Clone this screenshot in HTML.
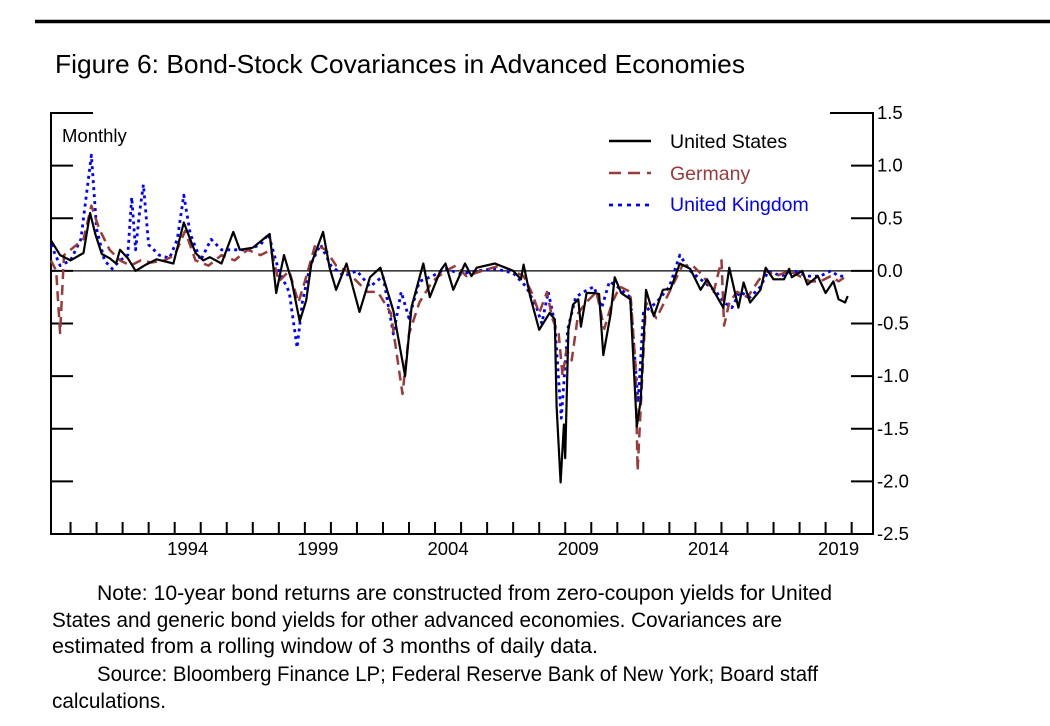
<!DOCTYPE html>
<html><head><meta charset="utf-8"><style>
html,body{margin:0;padding:0;background:#fff;}
svg{display:block;font-family:"Liberation Sans",sans-serif;}
</style></head><body>
<svg id="chart" width="1050" height="726" viewBox="0 0 1050 726">
<line x1="35" y1="21.5" x2="1050" y2="21.5" stroke="#000" stroke-width="3.5"/>
<text x="55" y="73" font-size="26" textLength="690" lengthAdjust="spacingAndGlyphs">Figure 6: Bond-Stock Covariances in Advanced Economies</text>
<g id="axes"></g>
<g id="series"></g>
<g>
<line x1="609" y1="141" x2="651" y2="141" stroke="#000" stroke-width="2.5"/>
<text x="670" y="148" font-size="19.5">United States</text>
<line x1="609" y1="173" x2="651" y2="173" stroke="#9b3a3a" stroke-width="2.5" stroke-dasharray="12,7"/>
<text x="670" y="180" font-size="19.5" fill="#9b3a3a">Germany</text>
<line x1="609" y1="205" x2="651" y2="205" stroke="#0000ff" stroke-width="2.8" stroke-dasharray="4,5"/>
<text x="670" y="211" font-size="19.5" fill="#0000ff">United Kingdom</text>
</g>
<text x="62" y="142" font-size="18.5">Monthly</text>
<g font-size="21" font-family="'Liberation Sans',sans-serif">
<text x="97" y="600" textLength="735" lengthAdjust="spacingAndGlyphs">Note: 10-year bond returns are constructed from zero-coupon yields for United</text>
<text x="52" y="627" textLength="730" lengthAdjust="spacingAndGlyphs">States and generic bond yields for other advanced economies. Covariances are</text>
<text x="52" y="653" textLength="546" lengthAdjust="spacingAndGlyphs">estimated from a rolling window of 3 months of daily data.</text>
<text x="97" y="681" textLength="721" lengthAdjust="spacingAndGlyphs">Source: Bloomberg Finance LP; Federal Reserve Bank of New York; Board staff</text>
<text x="52" y="708" textLength="114" lengthAdjust="spacingAndGlyphs">calculations.</text>
</g>
</svg>
<script>
const yTicks = [1.5, 1.0, 0.5, 0.0, -0.5, -1.0, -1.5, -2.0, -2.5];
const yTickLabels = ["1.5","1.0","0.5","0.0","-0.5","-1.0","-1.5","-2.0","-2.5"];
const xYearTicks = [1990,1991,1992,1993,1994,1995,1996,1997,1998,1999,2000,2001,2002,2003,2004,2005,2006,2007,2008,2009,2010,2011,2012,2013,2014,2015,2016,2017,2018,2019,2020];
const xLabelYears = [1994, 1999, 2004, 2009, 2014, 2019];

const usDates = [1989.25,1989.6,1990.0,1990.5,1990.75,1990.95,1991.2,1991.5,1991.75,1991.9,1992.2,1992.5,1992.9,1993.3,1993.95,1994.35,1994.8,1995.1,1995.35,1995.8,1996.25,1996.5,1997.0,1997.3,1997.65,1997.9,1998.2,1998.5,1998.8,1999.05,1999.25,1999.7,1999.95,2000.2,2000.6,2001.1,2001.5,2001.9,2002.4,2002.85,2003.1,2003.55,2003.8,2004.2,2004.4,2004.7,2005.15,2005.4,2005.6,2006.3,2007.0,2007.3,2007.4,2007.65,2008.0,2008.2,2008.4,2008.6,2008.67,2008.82,2008.95,2009.0,2009.12,2009.3,2009.5,2009.6,2009.82,2010.1,2010.3,2010.46,2010.75,2010.9,2011.15,2011.5,2011.75,2011.9,2012.1,2012.4,2012.75,2013.05,2013.4,2013.8,2014.2,2014.45,2015.07,2015.3,2015.65,2015.85,2016.1,2016.5,2016.7,2017.0,2017.4,2017.6,2017.7,2018.1,2018.3,2018.7,2019.0,2019.3,2019.5,2019.75,2019.85];
const usValues = [0.29,0.15,0.10,0.17,0.55,0.35,0.16,0.12,0.07,0.2,0.12,0.0,0.06,0.11,0.07,0.46,0.17,0.1,0.13,0.07,0.37,0.2,0.22,0.28,0.35,-0.21,0.15,-0.1,-0.48,-0.28,0.07,0.37,0.03,-0.18,0.07,-0.39,-0.06,0.03,-0.38,-1.0,-0.34,0.07,-0.25,0.0,0.07,-0.18,0.07,-0.05,0.03,0.07,0.0,-0.08,0.06,-0.24,-0.56,-0.48,-0.4,-0.46,-1.29,-2.01,-1.46,-1.78,-0.56,-0.32,-0.27,-0.53,-0.21,-0.21,-0.22,-0.8,-0.4,-0.06,-0.21,-0.27,-1.48,-1.23,-0.18,-0.43,-0.18,-0.17,0.07,0.02,-0.18,-0.08,-0.35,0.03,-0.35,-0.11,-0.3,-0.18,0.03,-0.08,-0.08,0.02,-0.06,0.0,-0.13,-0.05,-0.21,-0.1,-0.27,-0.3,-0.24];

const deDates = [1989.25,1989.45,1989.6,1989.75,1990.0,1990.5,1990.8,1991.1,1991.5,1991.9,1992.3,1992.7,1993.1,1993.6,1994.0,1994.4,1994.8,1995.3,1995.8,1996.3,1996.8,1997.3,1997.7,1998.0,1998.4,1998.75,1999.0,1999.4,1999.8,2000.2,2000.6,2001.0,2001.4,2001.8,2002.3,2002.75,2003.0,2003.4,2003.9,2004.4,2004.8,2005.2,2005.8,2006.5,2007.0,2007.4,2007.7,2008.0,2008.3,2008.5,2008.75,2008.9,2009.05,2009.25,2009.5,2009.8,2010.2,2010.5,2010.8,2011.1,2011.5,2011.7,2011.78,2011.9,2012.1,2012.5,2012.8,2013.2,2013.5,2013.9,2014.3,2014.7,2015.0,2015.1,2015.3,2015.6,2016.0,2016.4,2016.7,2017.1,2017.6,2018.0,2018.4,2018.8,2019.2,2019.5,2019.8];
const deValues = [0.1,0.0,-0.59,0.15,0.2,0.3,0.62,0.4,0.2,0.1,0.05,0.1,0.08,0.1,0.15,0.38,0.1,0.05,0.15,0.1,0.2,0.15,0.2,-0.1,0.0,-0.3,-0.1,0.25,0.2,0.05,0.0,-0.1,-0.2,-0.2,-0.4,-1.17,-0.6,-0.3,-0.1,0.0,0.05,-0.05,0.0,0.05,0.0,-0.05,-0.2,-0.4,-0.2,-0.45,-0.6,-1.0,-0.75,-0.85,-0.4,-0.3,-0.2,-0.55,-0.3,-0.15,-0.2,-0.9,-1.9,-1.3,-0.3,-0.45,-0.3,-0.1,0.05,0.05,-0.05,-0.2,0.1,-0.52,-0.3,-0.2,-0.25,-0.1,0.0,-0.05,0.0,-0.05,-0.1,-0.1,-0.05,-0.1,-0.05];

const ukDates = [1989.25,1989.6,1990.0,1990.4,1990.55,1990.8,1991.0,1991.3,1991.6,1991.9,1992.2,1992.35,1992.5,1992.65,1992.8,1993.0,1993.4,1993.8,1994.1,1994.35,1994.6,1995.0,1995.4,1995.8,1996.3,1996.8,1997.3,1997.6,1998.0,1998.4,1998.7,1998.9,1999.2,1999.6,2000.0,2000.5,2001.0,2001.5,2002.0,2002.4,2002.7,2003.0,2003.4,2003.9,2004.4,2005.0,2005.6,2006.3,2007.0,2007.5,2007.9,2008.1,2008.35,2008.6,2008.85,2009.1,2009.4,2009.7,2010.1,2010.4,2010.7,2011.0,2011.5,2011.8,2012.0,2012.5,2013.0,2013.4,2013.8,2014.3,2014.8,2015.1,2015.4,2015.7,2016.1,2016.5,2016.8,2017.3,2017.8,2018.3,2018.8,2019.2,2019.5,2019.8];
const ukValues = [0.25,0.05,0.1,0.3,0.6,1.1,0.4,0.1,0.02,0.1,0.15,0.7,0.2,0.55,0.82,0.25,0.15,0.12,0.3,0.72,0.35,0.1,0.3,0.2,0.2,0.2,0.25,0.35,0.0,-0.2,-0.73,-0.3,0.05,0.25,0.05,-0.05,0.0,-0.15,-0.05,-0.6,-0.2,-0.45,-0.1,-0.05,0.02,-0.03,0.0,0.02,-0.02,-0.15,-0.35,-0.5,-0.2,-0.5,-1.4,-0.55,-0.25,-0.2,-0.15,-0.35,-0.1,-0.15,-0.25,-1.25,-0.4,-0.3,-0.15,0.15,0.0,-0.1,-0.2,-0.3,-0.35,-0.2,-0.25,-0.15,0.0,-0.05,0.0,-0.05,-0.05,0.0,-0.05,-0.05];

const NS = "http://www.w3.org/2000/svg";
const L = 51, R = 873, T = 113, B = 534;
const X0 = 1989.25, X1 = 2020.82, YMAX = 1.5, YMIN = -2.5;
function xs(yr){ return L + (yr - X0) / (X1 - X0) * (R - L); }
function ys(v){ return T + (YMAX - v) / (YMAX - YMIN) * (B - T); }
function mk(tag, attrs, parent){ const e = document.createElementNS(NS, tag); for (const k in attrs) e.setAttribute(k, attrs[k]); parent.appendChild(e); return e; }

const axes = document.getElementById('axes');
let e;
e = mk('path', {d:`M${L+42},${T} H${L} V${B} H${R} V${T} H${R-43}`, fill:'none', stroke:'#000', 'stroke-width':2}, axes);


e = mk('line', {x1:L, x2:R, y1:ys(0), y2:ys(0), stroke:'#000', 'stroke-width':1.3}, axes);


yTicks.forEach((v, i) => {
  const y = ys(v);
  if (v < YMAX && v > YMIN) {
    const t1 = mk('line', {x1:L, x2:L+22, y1:y, y2:y, stroke:'#000', 'stroke-width':2}, axes);
    
    
    const t2 = mk('line', {x1:R-22, x2:R, y1:y, y2:y, stroke:'#000', 'stroke-width':2}, axes);
    
    
  }
  const tx = mk('text', {x:R+4, y:y+6, 'font-size':18.5}, axes);
  tx.textContent = yTickLabels[i];
  
  
});
xYearTicks.forEach(yr => {
  const x = xs(yr);
  const t = mk('line', {x1:x, x2:x, y1:B-12, y2:B, stroke:'#000', 'stroke-width':2}, axes);
  
  
});
xLabelYears.forEach(yr => {
  const t = mk('text', {x:xs(yr + 0.5), y:B+21, 'font-size':18.5, 'text-anchor':'middle'}, axes);
  t.textContent = String(yr);
  
  
});

const sg = document.getElementById('series');
function drawSeries(dates, vals, style, name){
  const d = dates.map((t, i) => (i ? 'L' : 'M') + xs(t).toFixed(1) + ',' + ys(vals[i]).toFixed(1)).join(' ');
  const p = mk('path', Object.assign({d:d, fill:'none', 'stroke-linejoin':'round'}, style), sg);
  
  
}
drawSeries(ukDates, ukValues, {stroke:'#0000ff', 'stroke-width':2.8, 'stroke-dasharray':'3,4'}, 'uk-line');
drawSeries(deDates, deValues, {stroke:'#9b3a3a', 'stroke-width':2.5, 'stroke-dasharray':'10,6'}, 'germany-line');
drawSeries(usDates, usValues, {stroke:'#000', 'stroke-width':2.2}, 'us-line');
</script>
</body></html>
